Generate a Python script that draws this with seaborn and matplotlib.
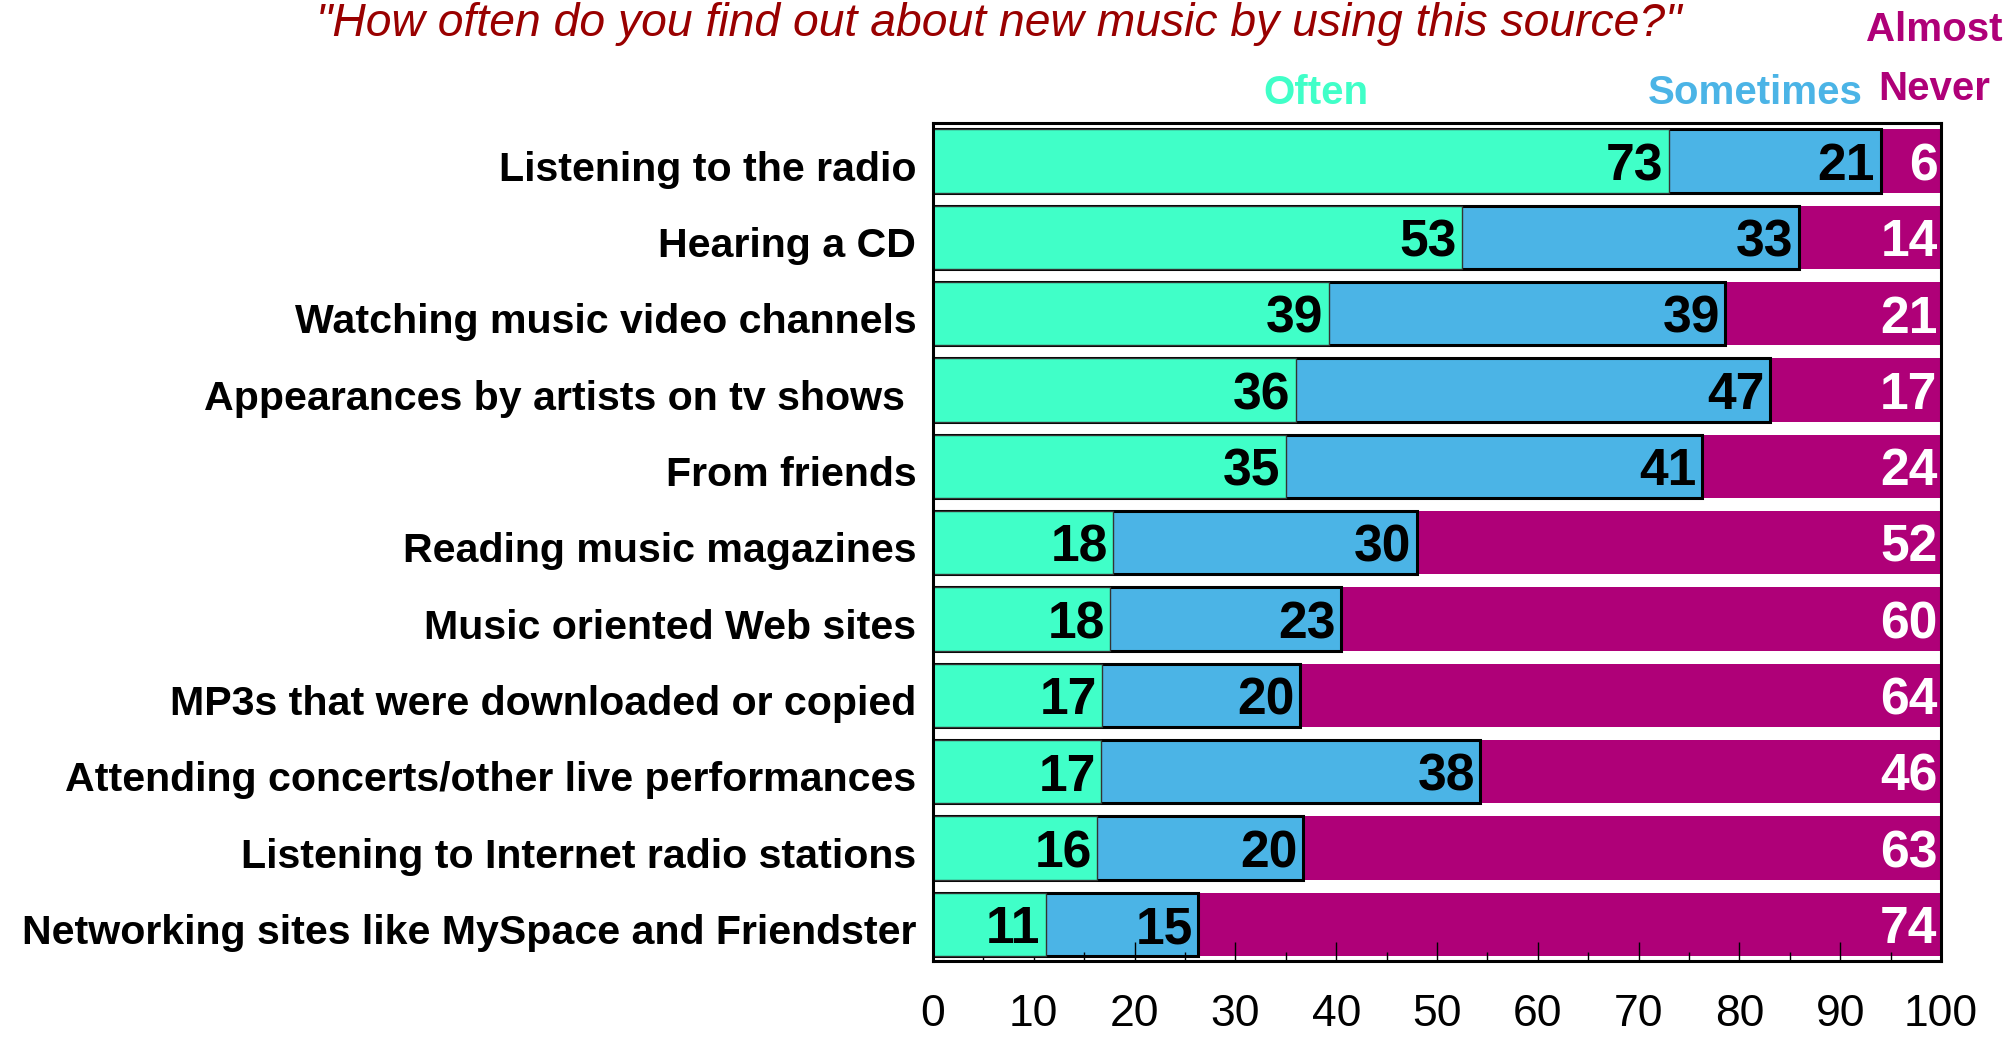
import matplotlib
matplotlib.use("Agg")
import matplotlib.pyplot as plt
from matplotlib import font_manager
from matplotlib.ticker import MultipleLocator
from matplotlib.transforms import ScaledTranslation
import seaborn as sns
import pandas as pd

categories = [
    "Listening to the radio",
    "Hearing a CD",
    "Watching music video channels",
    "Appearances by artists on tv shows ",
    "From friends",
    "Reading music magazines",
    "Music oriented Web sites",
    "MP3s that were downloaded or copied",
    "Attending concerts/other live performances",
    "Listening to Internet radio stations",
    "Networking sites like MySpace and Friendster",
]
# percentages (labels show them rounded)
often = [73.0, 52.5, 39.3, 36.0, 35.0, 17.9, 17.6, 16.8, 16.7, 16.3, 11.2]
sometimes = [21.0, 33.4, 39.3, 47.0, 41.3, 30.1, 22.9, 19.6, 37.6, 20.4, 15.1]
almost_never = [6.0, 14.1, 21.4, 17.0, 23.7, 52.0, 59.6, 63.6, 45.8, 63.3, 73.7]

C_OFTEN = "#40FFC8"
C_SOME = "#4BB4E6"
C_NEVER = "#AF0078"
C_TITLE = "#990000"

sns.set_theme(style="white")
available = {f.name for f in font_manager.fontManager.ttflist}
BASE = "Liberation Sans" if "Liberation Sans" in available else "DejaVu Sans"
plt.rcParams["font.family"] = [BASE, "DejaVu Sans"]


def fmt(v):
    return str(int(v + 0.5))


df = pd.DataFrame({
    "cat": categories,
    "often": often,
    "some_cum": [o + s for o, s in zip(often, sometimes)],
    "total": [o + s + n for o, s, n in zip(often, sometimes, almost_never)],
})

fig = plt.figure(figsize=(20.09, 10.37), dpi=100)
ax = fig.add_axes([0.4644, 0.0733, 0.9662 - 0.4644, 0.8814 - 0.0733])

BW = 0.83
sns.barplot(data=df, x="total", y="cat", orient="h", color=C_NEVER, width=BW,
            saturation=1, linewidth=0, ax=ax, zorder=1)
sns.barplot(data=df, x="some_cum", y="cat", orient="h", color=C_SOME, width=BW,
            saturation=1, edgecolor="black", linewidth=2.2, ax=ax, zorder=2)
sns.barplot(data=df, x="often", y="cat", orient="h", color=C_OFTEN, width=BW,
            saturation=1, edgecolor="#333333", linewidth=1.0, ax=ax, zorder=3)

ax.set_xlim(0, 100)
ax.set_ylim(len(categories) - 0.52, -0.5)
ax.set_xlabel("")
ax.set_ylabel("")

# value labels
VSIZE = 37.2
for i in range(len(categories)):
    ax.annotate(fmt(often[i]), xy=(df["often"][i], i), xytext=(-4, 0), textcoords="offset points",
                ha="right", va="center_baseline", fontsize=VSIZE, fontweight="bold",
                color="black", zorder=5)
    ax.annotate(fmt(sometimes[i]), xy=(df["some_cum"][i], i), xytext=(-4, 0),
                textcoords="offset points", ha="right", va="center_baseline",
                fontsize=VSIZE, fontweight="bold", color="black", zorder=5)
    ax.annotate(fmt(almost_never[i]), xy=(100, i), xytext=(-2.5, 0),
                textcoords="offset points", ha="right", va="center_baseline",
                fontsize=VSIZE, fontweight="bold", color="white", zorder=5)

# axes styling
for side in ["left", "right", "top", "bottom"]:
    ax.spines[side].set_visible(True)
    ax.spines[side].set_color("black")
    ax.spines[side].set_linewidth(2.2)
    ax.spines[side].set_zorder(6)

ax.xaxis.set_major_locator(MultipleLocator(10))
ax.xaxis.set_minor_locator(MultipleLocator(5))
ax.tick_params(axis="x", which="major", direction="in", length=14, width=1.0,
               color="black", bottom=True, top=False, pad=24, labelsize=32)
ax.tick_params(axis="x", which="minor", direction="in", length=6.5, width=1.0,
               color="black", bottom=True, top=False)
ax.tick_params(axis="y", which="major", direction="in", length=13, width=1.5,
               color="#2a6a55", left=True, right=False, pad=12, labelsize=29.6)
for lab in ax.get_xticklabels():
    lab.set_color("black")
shift_down = ScaledTranslation(0, -4.5 / 100, fig.dpi_scale_trans)
for lab in ax.get_yticklabels():
    lab.set_fontweight("bold")
    lab.set_color("black")
    lab.set_verticalalignment("center_baseline")
    lab.set_transform(lab.get_transform() + shift_down)
for t in ax.xaxis.get_major_ticks() + ax.xaxis.get_minor_ticks() + ax.yaxis.get_major_ticks():
    t.tick1line.set_zorder(7)
ax.set_axisbelow(False)

# title and series captions
fig.text(0.497, 0.998, '"How often do you find out about new music by using this source?"',
         ha="center", va="top", fontsize=33.3, style="italic", color=C_TITLE)
fig.text(0.655, 0.910, "Often", ha="center", va="center", fontsize=29,
         fontweight="bold", color=C_OFTEN)
fig.text(0.8736, 0.910, "Sometimes", ha="center", va="center", fontsize=29,
         fontweight="bold", color=C_SOME)
fig.text(0.9627, 0.971, "Almost", ha="center", va="center", fontsize=29,
         fontweight="bold", color=C_NEVER)
fig.text(0.9627, 0.914, "Never", ha="center", va="center", fontsize=29,
         fontweight="bold", color=C_NEVER)

fig.savefig("out.png", dpi=100, facecolor="white")
